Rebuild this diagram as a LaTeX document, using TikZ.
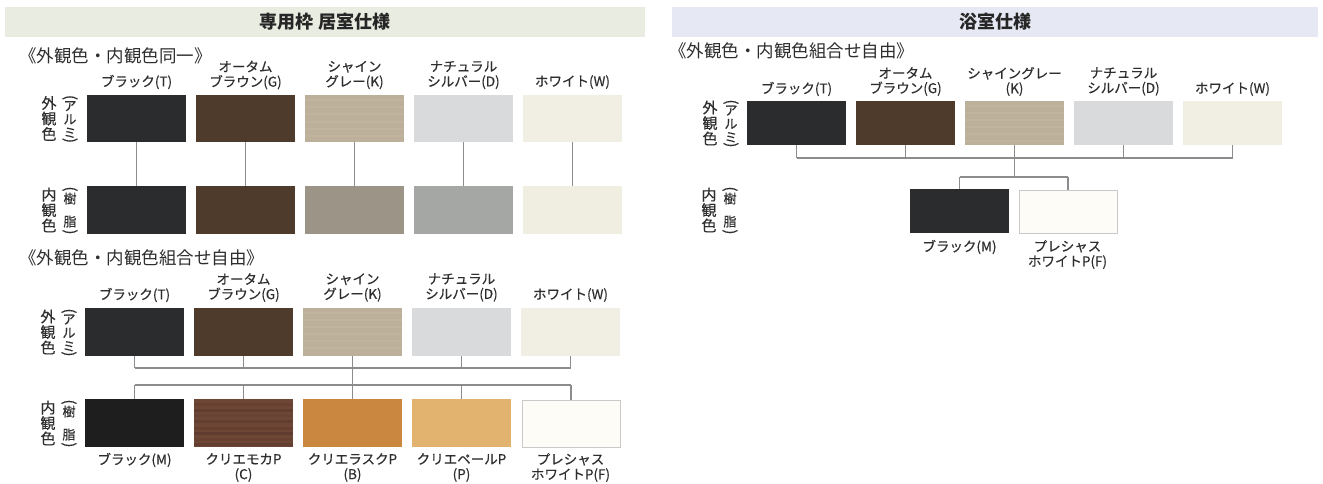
\documentclass[tikz,border=0pt]{standalone}
\usepackage{fontspec}
\setmainfont{Noto Sans CJK JP}
\newfontfamily\labfont{Noto Sans CJK JP}[FakeBold=0.35]
\definecolor{hdrL}{HTML}{E9ECE1}
\definecolor{hdrR}{HTML}{E6E9F3}
\definecolor{txt}{HTML}{2E2E2E}
\definecolor{conn}{HTML}{8C8C8C}
\definecolor{blackT}{HTML}{2B2C2E}
\definecolor{brownG}{HTML}{4F3B2C}
\definecolor{grayK}{HTML}{BDB09A}
\definecolor{grayKi}{HTML}{9D9488}
\definecolor{silverD}{HTML}{D8DADB}
\definecolor{silverDi}{HTML}{A5A7A4}
\definecolor{whiteW}{HTML}{F1EFE3}
\definecolor{whiteWi}{HTML}{EFEEE1}
\definecolor{blackM}{HTML}{1E1E1F}
\definecolor{mochaC}{HTML}{6E4636}
\definecolor{ruskB}{HTML}{C9873F}
\definecolor{paleP}{HTML}{E2B36F}
\definecolor{presF}{HTML}{FDFCF6}
\definecolor{presFb}{HTML}{C9C9C9}
\newcommand\gaikanlab[3]{%
  \node[sidec] (#1a) at (#2,#3) {外\\観\\色};
  \node[sidep] (#1b) at (#2+21,#3+1) {ア\\ル\\ミ};
  \node[parn,rotate=-90] (#1c) at (#2+21,#3-21) {(};
  \node[parn,rotate=-90] (#1d) at (#2+21,#3+22) {)};
}
\newcommand\naikanlab[3]{%
  \node[sidec] (#1a) at (#2,#3) {内\\観\\色};
  \node[sidep2] (#1b) at (#2+21,#3) {樹\\脂};
  \node[parn,rotate=-90] (#1c) at (#2+21,#3-21) {(};
  \node[parn,rotate=-90] (#1d) at (#2+21,#3+22) {)};
}
\begin{document}
\begin{tikzpicture}[x=1pt,y=-1pt,
  sw/.style={fill=#1,draw=none,minimum width=99pt,inner sep=0pt,anchor=north west},
  swb/.style={fill=#1,draw=presFb,line width=0.8pt,minimum width=98pt,inner sep=0pt,anchor=north west},
  lab/.style={text=txt,font=\labfont\fontsize{13.5}{15}\selectfont,align=center,inner sep=0pt},
  ttl/.style={text=txt,font=\fontsize{17.5}{19}\selectfont,anchor=west,inner sep=0pt},
  hdr/.style={text=black!85,font=\bfseries\fontsize{18}{20}\selectfont,minimum height=30pt,inner sep=0pt},
  sidec/.style={text=txt,font=\labfont\fontsize{15}{15.5}\selectfont,align=center,inner sep=0pt},
  sidep/.style={text=txt,font=\labfont\fontsize{13}{13.5}\selectfont,align=center,inner sep=0pt},
  sidep2/.style={text=txt,font=\labfont\fontsize{13}{23}\selectfont,align=center,inner sep=0pt},
  parn/.style={text=txt,font=\labfont\fontsize{15}{15}\selectfont,inner sep=0pt},
  cn/.style={draw=conn,line width=1.2pt}]
\fill[white] (0,0) rectangle (1323,484);
\useasboundingbox (0,0) rectangle (1323,484);

% headers
\node[hdr,fill=hdrL,minimum width=640pt] (hL) at (325,22) {専用枠 居室仕様};
\node[hdr,fill=hdrR,minimum width=646pt] (hR) at (995,22) {浴室仕様};

% ================= group 1 =================
\node[ttl] (t1) at (19,56) {《外観色・内観色同一》};
\node[lab] (l11) at (136.5,82) {ブラック(T)};
\node[lab] (l12) at (245.5,75) {オータム\\ブラウン(G)};
\node[lab] (l13) at (354.5,75) {シャイン\\グレー(K)};
\node[lab] (l14) at (463.5,75) {ナチュラル\\シルバー(D)};
\node[lab] (l15) at (572.5,82) {ホワイト(W)};
\node[sw=blackT,minimum height=47pt] (o1) at (87,95) {};
\node[sw=brownG,minimum height=47pt] (o2) at (196,95) {};
\node[sw=grayK,minimum height=47pt] (o3) at (305,95) {};
\node[sw=silverD,minimum height=47pt] (o4) at (414,95) {};
\node[sw=whiteW,minimum height=47pt] (o5) at (523,95) {};
\foreach \yy in {99,106,113,121,128,135}
  {\fill[white,opacity=.06] (305,\yy) rectangle (404,\yy+2);}
\node[sw=blackT,minimum height=48pt] (i1) at (87,186) {};
\node[sw=brownG,minimum height=48pt] (i2) at (196,186) {};
\node[sw=grayKi,minimum height=48pt] (i3) at (305,186) {};
\node[sw=silverDi,minimum height=48pt] (i4) at (414,186) {};
\node[sw=whiteWi,minimum height=48pt] (i5) at (523,186) {};
\foreach \k in {1,...,5} {\draw[cn] (o\k.south) -- (i\k.north);}
\gaikanlab{sa1}{49}{118.5}
\naikanlab{sb1}{49}{210}

% ================= group 2 =================
\node[ttl] (t2) at (19,258) {《外観色・内観色組合せ自由》};
\node[lab] (l21) at (134.5,295) {ブラック(T)};
\node[lab] (l22) at (243.5,287.5) {オータム\\ブラウン(G)};
\node[lab] (l23) at (352.5,287.5) {シャイン\\グレー(K)};
\node[lab] (l24) at (461.5,287.5) {ナチュラル\\シルバー(D)};
\node[lab] (l25) at (570.5,295) {ホワイト(W)};
\node[sw=blackT,minimum height=48pt] (p1) at (85,308) {};
\node[sw=brownG,minimum height=48pt] (p2) at (194,308) {};
\node[sw=grayK,minimum height=48pt] (p3) at (303,308) {};
\node[sw=silverD,minimum height=48pt] (p4) at (412,308) {};
\node[sw=whiteW,minimum height=48pt] (p5) at (521,308) {};
\node[sw=blackM,minimum height=48pt] (q1) at (85,399) {};
\node[sw=mochaC,minimum height=48pt] (q2) at (194,399) {};
\node[sw=ruskB,minimum height=48pt] (q3) at (303,399) {};
\node[sw=paleP,minimum height=48pt] (q4) at (412,399) {};
\node[swb=presF,minimum height=47pt] (q5) at (521.5,399.5) {};
\foreach \yy/\op in {403/.07,409/.12,414/.05,420/.1,427/.08,432/.13,438/.06,443/.1}
  {\fill[black,opacity=\op] (194,\yy) rectangle (293,\yy+2.5);}
\foreach \yy in {312,319,326,333,340,347}
  {\fill[white,opacity=.06] (303,\yy) rectangle (402,\yy+2);}
\node[lab] (m1) at (134.5,460) {ブラック(M)};
\node[lab] (m2) at (243.5,467.5) {クリエモカP\\(C)};
\node[lab] (m3) at (352.5,467.5) {クリエラスクP\\(B)};
\node[lab] (m4) at (461.5,467.5) {クリエペールP\\(P)};
\node[lab] (m5) at (570.5,467.5) {プレシャス\\ホワイトP(F)};
\coordinate (bu) at (0,368);
\coordinate (bl) at (0,385);
\foreach \k in {1,2,4,5} {\draw[cn] (p\k.south) -- (p\k.south |- bu);}
\draw[cn] (p1.south |- bu) -- (p5.south |- bu);
\draw[cn] (p3.south) -- (q3.north);
\foreach \k in {1,2,4,5} {\draw[cn] (q\k.north) -- (q\k.north |- bl);}
\draw[cn] (q1.north |- bl) -- (q5.north |- bl);
\gaikanlab{sa2}{48}{332}
\naikanlab{sb2}{48}{423}

% ================= right =================
\node[ttl] (t3) at (669,51) {《外観色・内観色組合せ自由》};
\node[lab] (l31) at (796.5,89) {ブラック(T)};
\node[lab] (l32) at (905.5,81.5) {オータム\\ブラウン(G)};
\node[lab] (l33) at (1014.5,81.5) {シャイングレー\\(K)};
\node[lab] (l34) at (1123.5,81.5) {ナチュラル\\シルバー(D)};
\node[lab] (l35) at (1232.5,89) {ホワイト(W)};
\node[sw=blackT,minimum height=44pt] (r1) at (747,101) {};
\node[sw=brownG,minimum height=44pt] (r2) at (856,101) {};
\node[sw=grayK,minimum height=44pt] (r3) at (965,101) {};
\node[sw=silverD,minimum height=44pt] (r4) at (1074,101) {};
\node[sw=whiteW,minimum height=44pt] (r5) at (1183,101) {};
\foreach \yy in {105,112,119,126,133,140}
  {\fill[white,opacity=.06] (965,\yy) rectangle (1064,\yy+2);}
\node[sw=blackT,minimum height=44pt] (s1) at (910,189) {};
\node[swb=presF,minimum height=43pt] (s2) at (1018.5,189.5) {};
\node[lab] (n1) at (959.5,247) {ブラック(M)};
\node[lab] (n2) at (1067.5,254.5) {プレシャス\\ホワイトP(F)};
\coordinate (br) at (0,158);
\coordinate (br2) at (0,177);
\foreach \k in {1,2,4,5} {\draw[cn] (r\k.south) -- (r\k.south |- br);}
\draw[cn] (r1.south |- br) -- (r5.south |- br);
\draw[cn] (r3.south) -- (r3.south |- br2);
\draw[cn] (s1.north |- br2) -- (s2.north |- br2);
\draw[cn] (s1.north) -- (s1.north |- br2);
\draw[cn] (s2.north) -- (s2.north |- br2);
\gaikanlab{sa3}{710}{123}
\naikanlab{sb3}{709}{210}
\end{tikzpicture}
\end{document}
